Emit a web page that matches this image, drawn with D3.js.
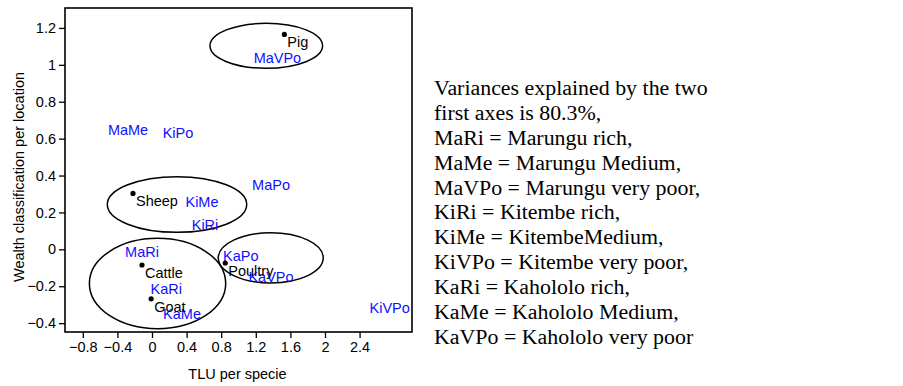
<!DOCTYPE html>
<html>
<head>
<meta charset="utf-8">
<script src="https://cdn.jsdelivr.net/npm/d3@7"></script>
<style>
  body { margin: 0; background: white; }
  svg { display: block; }
</style>
</head>
<body>
<div id="container"></div>
<script>
// livestock species (black dots)
let species = ["Pig", "Sheep", "Cattle", "Goat", "Poultry"];
let speciesX = [1.53, -0.22, -0.116, -0.01, 0.847];
let speciesY = [1.165, 0.303, -0.085, -0.268, -0.074];

// location x wealth class (blue labels)
let sites = ["MaVPo", "MaMe", "KiPo", "MaPo", "KiMe", "KiRi", "MaRi", "KaPo", "KaVPo", "KaRi", "KaMe", "KiVPo"];
let siteX = [1.45, -0.277, 0.30, 1.376, 0.578, 0.613, -0.116, 1.027, 1.376, 0.165, 0.347, 2.748];
let siteY = [1.04, 0.647, 0.632, 0.349, 0.258, 0.135, -0.013, -0.036, -0.148, -0.213, -0.351, -0.316];

// groupings (centre and radii in axis units)
let groupCX = [1.321, 0.289, 0.064, 1.373];
let groupCY = [1.103, 0.243, -0.185, -0.046];
let groupRX = [0.651, 0.806, 0.788, 0.607];
let groupRY = [0.122, 0.151, 0.245, 0.136];

let xTicks = [-0.8, -0.4, 0, 0.4, 0.8, 1.2, 1.6, 2, 2.4];
let yTicks = [-0.4, -0.2, 0, 0.2, 0.4, 0.6, 0.8, 1, 1.2];

let legendLines = [
  "Variances explained by the two",
  "first axes is 80.3%,",
  "MaRi = Marungu rich,",
  "MaMe = Marungu Medium,",
  "MaVPo = Marungu very poor,",
  "KiRi = Kitembe rich,",
  "KiMe = KitembeMedium,",
  "KiVPo = Kitembe very poor,",
  "KaRi = Kahololo rich,",
  "KaMe = Kahololo Medium,",
  "KaVPo = Kahololo very poor"
];

let w = 903;
let h = 386;
let padLeft = 65, padRight = 412, padTop = 8, padBottom = 332;
let font = "'Liberation Sans', Arial, sans-serif";
let fontSize = "14.5px";

let viz = d3.select("#container")
  .append("svg")
    .attr("width", w)
    .attr("height", h)
;

let xScale = d3.scaleLinear().domain([-1.006, 3.006]).range([padLeft, padRight]);
let yScale = d3.scaleLinear().domain([-0.448, 1.308]).range([padBottom, padTop]);

// axes
let xAxis = d3.axisBottom(xScale).tickValues(xTicks).tickSize(6).tickPadding(4)
  .tickFormat(d3.format("~g"));
let xAxisGroup = viz.append("g")
    .attr("transform", "translate(0," + padBottom + ")")
    .call(xAxis);

let yAxis = d3.axisLeft(yScale).tickValues(yTicks).tickSize(6).tickPadding(3)
  .tickFormat(d3.format("~g"));
let yAxisGroup = viz.append("g")
    .attr("transform", "translate(" + padLeft + ",0)")
    .call(yAxis);

[xAxisGroup, yAxisGroup].forEach(function(g){
  g.select(".domain").remove();
  g.selectAll("line").attr("stroke", "black").attr("stroke-width", 1.3);
  g.selectAll("text")
    .attr("fill", "black")
    .style("font-family", font)
    .style("font-size", fontSize);
});

// frame
viz.append("rect")
  .attr("x", padLeft)
  .attr("y", padTop)
  .attr("width", padRight - padLeft)
  .attr("height", padBottom - padTop)
  .attr("fill", "none")
  .attr("stroke", "black")
  .attr("stroke-width", 1.6);

// axis titles
viz.append("text")
  .attr("x", (padLeft + padRight) / 2 - 1)
  .attr("y", 379)
  .attr("text-anchor", "middle")
  .style("font-family", font)
  .style("font-size", fontSize)
  .text("TLU per specie");

viz.append("text")
  .attr("transform", "translate(24,177) rotate(-90)")
  .attr("text-anchor", "middle")
  .style("font-family", font)
  .style("font-size", fontSize)
  .text("Wealth classification per location");

// ellipses
let groups = d3.range(groupCX.length);
viz.selectAll(".group")
  .data(groups)
  .enter()
  .append("ellipse")
    .attr("class", "group")
    .attr("cx", function(i){ return xScale(groupCX[i]); })
    .attr("cy", function(i){ return yScale(groupCY[i]); })
    .attr("rx", function(i){ return xScale(groupRX[i]) - xScale(0); })
    .attr("ry", function(i){ return yScale(0) - yScale(groupRY[i]); })
    .attr("fill", "none")
    .attr("stroke", "black")
    .attr("stroke-width", 1.5);

// site labels
viz.selectAll(".site")
  .data(sites)
  .enter()
  .append("text")
    .attr("class", "site")
    .attr("x", function(d, i){ return xScale(siteX[i]); })
    .attr("y", function(d, i){ return yScale(siteY[i]); })
    .attr("dy", "0.35em")
    .attr("text-anchor", "middle")
    .attr("fill", "#1010ff")
    .style("font-family", font)
    .style("font-size", fontSize)
    .text(function(d){ return d; });

// species dots and labels
viz.selectAll(".dot")
  .data(species)
  .enter()
  .append("circle")
    .attr("class", "dot")
    .attr("cx", function(d, i){ return xScale(speciesX[i]); })
    .attr("cy", function(d, i){ return yScale(speciesY[i]); })
    .attr("r", 2.6)
    .attr("fill", "black");

viz.selectAll(".species")
  .data(species)
  .enter()
  .append("text")
    .attr("class", "species")
    .attr("x", function(d, i){ return xScale(speciesX[i]) + 3; })
    .attr("y", function(d, i){ return yScale(speciesY[i]) + 13; })
    .attr("fill", "black")
    .style("font-family", font)
    .style("font-size", fontSize)
    .text(function(d){ return d; });

// legend text (source is slightly stretched horizontally)
viz.append("g")
    .attr("transform", "translate(434,0) scale(1.095,1)")
  .selectAll("text")
  .data(legendLines)
  .enter()
  .append("text")
    .attr("x", 0)
    .attr("y", function(d, i){ return 95 + i * 24.9; })
    .style("font-family", "'Liberation Serif', 'Times New Roman', serif")
    .style("font-size", "20px")
    .attr("fill", "black")
    .text(function(d){ return d; });
</script>
</body>
</html>
